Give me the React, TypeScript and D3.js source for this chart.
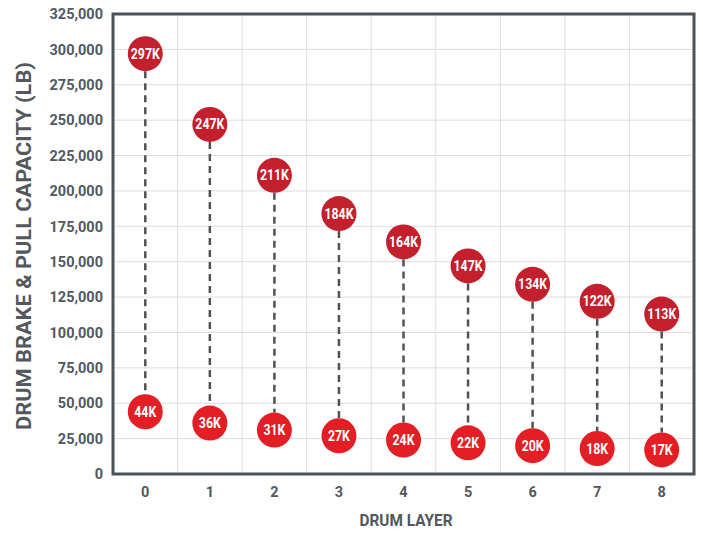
import React from "react";
import * as d3 from "d3";

const layers = ["0", "1", "2", "3", "4", "5", "6", "7", "8"];
const brakeCapacity = [297000, 247000, 211000, 184000, 164000, 147000, 134000, 122000, 113000];
const pullCapacity = [44000, 36000, 31000, 27000, 24000, 22000, 20000, 18000, 17000];
const yTicks = [0, 25000, 50000, 75000, 100000, 125000, 150000, 175000, 200000, 225000, 250000, 275000, 300000, 325000];

const W = 703, H = 533;
const M = { left: 113, right: 9, top: 14, bottom: 59 };
const FONT = "Roboto, 'Noto Sans', sans-serif";
const GRAY = "#53585d";

function CondText({ x, y, sx, children, ...rest }: any) {
  return (
    <text transform={`translate(${x},${y}) scale(${sx},1)`} {...rest}>
      {children}
    </text>
  );
}

export default function App() {
  const x = d3.scaleBand<string>().domain(layers).range([M.left, W - M.right]).padding(0);
  const y = d3.scaleLinear().domain([0, 325000]).range([H - M.bottom, M.top]);
  const fmt = d3.format(",");
  const r = 17.5;
  const lbl = (v: number) => `${Math.round(v / 1000)}K`;
  const cx = (i: number) => (x(layers[i]) as number) + x.bandwidth() / 2;

  return (
    <svg width={W} height={H} style={{ position: "absolute", left: 0, top: 0 }}>
      <rect width={W} height={H} fill="#fff" />
      {/* gridlines */}
      {yTicks.map((t) => (
        <line key={"h" + t} x1={M.left} x2={W - M.right} y1={y(t)} y2={y(t)} stroke="#dcdcdc" strokeWidth={1} />
      ))}
      {layers.slice(1).map((l) => (
        <line key={"v" + l} x1={x(l)} x2={x(l)} y1={M.top} y2={H - M.bottom} stroke="#dcdcdc" strokeWidth={1} />
      ))}
      {/* border */}
      <rect x={M.left} y={M.top} width={W - M.left - M.right} height={H - M.top - M.bottom} fill="none" stroke="#4d5257" strokeWidth={3} />
      {/* y ticks */}
      {yTicks.map((t) => (
        <text key={"yt" + t} x={103} y={y(t)} dy="0.36em" textAnchor="end" fontFamily={FONT} fontWeight={700} fontSize={14.5} fill={GRAY}>
          {fmt(t)}
        </text>
      ))}
      {layers.map((l, i) => (
        <text key={"xt" + l} x={cx(i)} y={492} dy="0.36em" textAnchor="middle" fontFamily={FONT} fontWeight={700} fontSize={14.5} fill={GRAY}>
          {l}
        </text>
      ))}
      <text x={406} y={520} dy="0.36em" textAnchor="middle" fontFamily={FONT} fontWeight={700} fontSize={17} fill={GRAY} textLength={93} lengthAdjust="spacingAndGlyphs">
        DRUM LAYER
      </text>
      <text transform={`translate(24,246) rotate(-90)`} dy="0.36em" textAnchor="middle" fontFamily={FONT} fontWeight={700} fontSize={19.5} fill={GRAY} textLength={368} lengthAdjust="spacingAndGlyphs">
        DRUM BRAKE &amp; PULL CAPACITY (LB)
      </text>
      {/* dashed connectors */}
      {layers.map((l, i) => (
        <line key={"d" + l} x1={cx(i)} x2={cx(i)} y1={y(brakeCapacity[i]) + r} y2={y(pullCapacity[i]) - r} stroke="#4f5358" strokeWidth={2.5} strokeDasharray="7,5" />
      ))}
      {/* brake circles */}
      {layers.map((l, i) => (
        <g key={"b" + l}>
          <circle cx={cx(i)} cy={y(brakeCapacity[i])} r={r} fill="#c41f2d" />
          <CondText x={cx(i)} y={y(brakeCapacity[i])} sx={0.88} dy="0.36em" textAnchor="middle" fontFamily={FONT} fontWeight={700} fontSize={14} fill="#fff">
            {lbl(brakeCapacity[i])}
          </CondText>
        </g>
      ))}
      {/* pull circles */}
      {layers.map((l, i) => (
        <g key={"p" + l}>
          <circle cx={cx(i)} cy={y(pullCapacity[i])} r={r} fill="#e31e25" />
          <CondText x={cx(i)} y={y(pullCapacity[i])} sx={0.88} dy="0.36em" textAnchor="middle" fontFamily={FONT} fontWeight={700} fontSize={14} fill="#fff">
            {lbl(pullCapacity[i])}
          </CondText>
        </g>
      ))}
    </svg>
  );
}
